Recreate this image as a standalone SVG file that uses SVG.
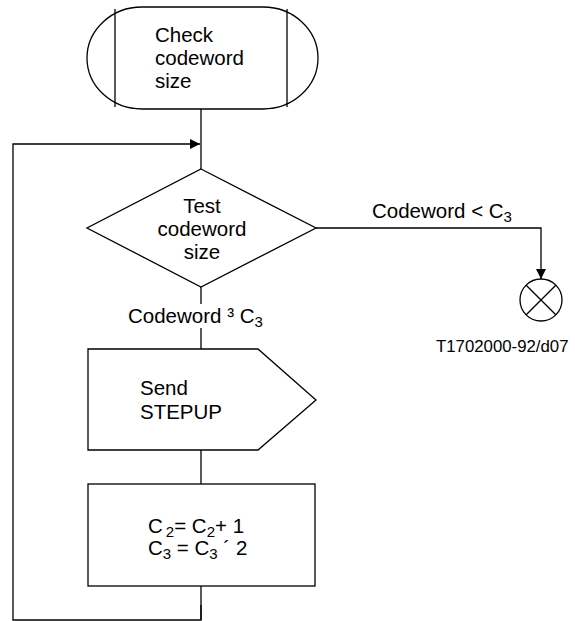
<svg xmlns="http://www.w3.org/2000/svg" width="575" height="621" viewBox="0 0 575 621">
<style>
.s{fill:#fff;stroke:#000;stroke-width:1.3}
.l{fill:none;stroke:#000;stroke-width:1.3}
text{font-family:"Liberation Sans",Arial,sans-serif;font-size:20.5px;fill:#000}
.sub{font-size:15px}
.c{text-anchor:middle}
</style>
<defs>
<marker id="ah" markerWidth="10" markerHeight="10" refX="10" refY="5" orient="auto" markerUnits="userSpaceOnUse">
<path d="M0,0 L10,5 L0,10 Z" fill="#000"/>
</marker>
</defs>
<g id="connectors">
<line class="l" x1="201" y1="109" x2="201" y2="169"/>
<path class="l" d="M201,605 V620 H13 V144 H200" marker-end="url(#ah)"/>
<path class="l" d="M316,228 H541 V279" marker-end="url(#ah)"/>
<line class="l" x1="201" y1="287" x2="201" y2="304"/>
<line class="l" x1="201" y1="328" x2="201" y2="349"/>
<line class="l" x1="201" y1="450" x2="201" y2="484"/>
<line class="l" x1="201" y1="586" x2="201" y2="620"/>
<text x="372" y="218">Codeword &lt; C<tspan class="sub" dx="0" dy="4">3</tspan></text>
<text x="128" y="323">Codeword ³ C<tspan class="sub" dx="0" dy="4">3</tspan></text>
</g>
<g id="start">
<rect class="s" x="87" y="7" width="231" height="102" rx="55" ry="51"/>
<line class="l" x1="115" y1="9" x2="115" y2="107"/>
<line class="l" x1="287" y1="9" x2="287" y2="107"/>
<text x="155" y="42">Check</text>
<text x="155" y="65">codeword</text>
<text x="155" y="88">size</text>
</g>
<g id="decision">
<polygon class="s" points="201,169 316,228 201,287 87,228"/>
<text class="c" x="202" y="213">Test</text>
<text class="c" x="202" y="236">codeword</text>
<text class="c" x="202" y="259">size</text>
</g>
<g id="stop">
<circle class="s" cx="541" cy="300" r="21"/>
<line class="l" x1="526.2" y1="285.2" x2="555.8" y2="314.8"/>
<line class="l" x1="555.8" y1="285.2" x2="526.2" y2="314.8"/>
</g>
<g id="send">
<polygon class="s" points="88,349 258,349 316,400 258,450 88,450"/>
<text x="140" y="395">Send</text>
<text x="140" y="419">STEPUP</text>
</g>
<g id="process">
<rect class="s" x="88" y="484" width="227" height="102"/>
<text x="148" y="533">C<tspan class="sub" dx="3" dy="4">2</tspan><tspan dy="-4">= C</tspan><tspan class="sub" dy="4">2</tspan><tspan dy="-4">+ 1</tspan></text>
<text x="148" y="555">C<tspan class="sub" dy="4">3</tspan><tspan dy="-4"> = C</tspan><tspan class="sub" dy="4">3</tspan><tspan dy="-4">  ´ 2</tspan></text>
</g>
<text x="436" y="352" style="font-size:16.8px">T1702000-92/d07</text>
</svg>
